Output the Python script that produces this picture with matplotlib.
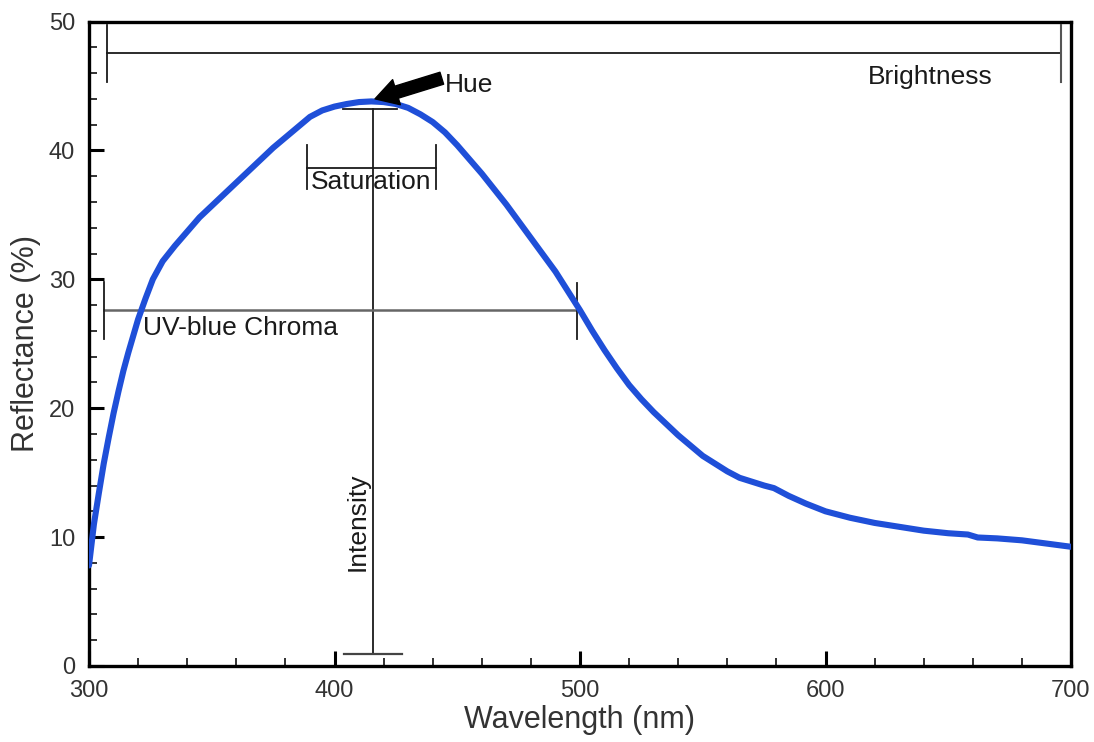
import matplotlib
matplotlib.use("Agg")
import matplotlib.pyplot as plt
from matplotlib.ticker import MultipleLocator

plt.rcParams['font.family'] = ['Liberation Sans', 'DejaVu Sans']

# Reflectance spectrum
wavelength = [300, 302, 304, 306, 308, 310, 312, 314, 316, 318,
              320, 323, 326, 330, 335, 340, 345, 350, 355, 360,
              365, 370, 375, 380, 385, 390, 395, 400, 405, 410,
              415, 420, 425, 430, 435, 440, 445, 450, 455, 460,
              465, 470, 475, 480, 485, 490, 495, 500, 505, 510,
              515, 520, 525, 530, 535, 540, 545, 550, 555, 560,
              565, 570, 575, 579, 585, 592, 600, 610, 620, 630,
              640, 650, 658, 662, 670, 680, 690, 700]
reflectance = [7.8, 11.0, 13.4, 15.7, 17.7, 19.6, 21.3, 22.9, 24.3, 25.6,
               26.9, 28.5, 30.0, 31.4, 32.6, 33.7, 34.8, 35.7, 36.6, 37.5,
               38.4, 39.3, 40.2, 41.0, 41.8, 42.6, 43.1, 43.4, 43.6, 43.75,
               43.8, 43.75, 43.6, 43.3, 42.8, 42.2, 41.4, 40.4, 39.3, 38.2,
               37.0, 35.8, 34.5, 33.2, 31.9, 30.6, 29.1, 27.6, 26.0, 24.5,
               23.1, 21.8, 20.7, 19.7, 18.8, 17.9, 17.1, 16.3, 15.7, 15.1,
               14.6, 14.3, 14.0, 13.8, 13.2, 12.6, 12.0, 11.5, 11.1, 10.8,
               10.5, 10.3, 10.2, 9.97, 9.9, 9.75, 9.5, 9.25]

x_ticks = [300, 400, 500, 600, 700]
y_ticks = [0, 10, 20, 30, 40, 50]

fig = plt.figure(figsize=(10.94, 7.42), dpi=100)
ax = fig.add_axes([89/1094, 76/742, (1071-89)/1094, (666-21.5)/742])

ax.plot(wavelength, reflectance, color='#1f4fd8', lw=4.4, solid_capstyle='round',
        solid_joinstyle='round', zorder=5)

ax.set_xlim(300, 700)
ax.set_ylim(0, 50)
ax.set_xticks(x_ticks)
ax.set_yticks(y_ticks)
ax.xaxis.set_minor_locator(MultipleLocator(20))
ax.yaxis.set_minor_locator(MultipleLocator(2))
ax.tick_params(which='major', direction='in', length=11, width=2.2, color='black',
               labelsize=17, labelcolor='#333333', pad=10)
ax.tick_params(which='minor', direction='in', length=6, width=1.3, color='#222222')
for s in ax.spines.values():
    s.set_linewidth(2.4)
    s.set_color('black')

ax.set_xlabel('Wavelength (nm)', fontsize=22, color='#333333', labelpad=2)
ax.set_ylabel('Reflectance (%)', fontsize=22, color='#333333', labelpad=6)

txt = dict(fontsize=19, color='#1a1a1a')
lk = dict(color='#1a1a1a', lw=1.3, zorder=3)

# Brightness
ax.plot([307.3, 695.9], [47.55, 47.55], **lk)
ax.plot([307.3, 307.3], [45.27, 49.7], **lk)
ax.plot([695.9, 695.9], [45.27, 49.7], color='#555555', lw=1.5, zorder=3)
ax.text(617.4, 45.17, 'Brightness', ha='left', va='baseline', **txt)

# Hue arrow
ax.annotate('', xy=(416.5, 44.0), xytext=(443.7, 45.6),
            arrowprops=dict(arrowstyle='simple,head_length=0.9,head_width=1.05,tail_width=0.5',
                            fc='black', ec='black', mutation_scale=18, shrinkA=0, shrinkB=0),
            zorder=6)
ax.text(445.0, 44.52, 'Hue', ha='left', va='baseline', **txt)

# Saturation
ax.plot([388.7, 441.3], [38.66, 38.66], **lk)
ax.plot([388.7, 388.7], [37.03, 40.39], **lk)
ax.plot([441.3, 441.3], [37.03, 40.39], **lk)
ax.text(415.1, 37.03, 'Saturation', ha='center', va='baseline', **txt)

# Intensity
ax.plot([415.5, 415.5], [0.93, 43.23], **lk)
ax.plot([403.6, 425.3], [43.23, 43.23], **lk)
ax.plot([404.0, 427.4], [0.93, 0.93], color='#444444', lw=1.6, zorder=3)
ax.text(412.4, 11.2, 'Intensity', rotation=90, rotation_mode='anchor',
        ha='center', va='baseline', **txt)

# UV-blue Chroma
ax.plot([306.1, 498.9], [27.65, 27.65], color='#666666', lw=1.8, zorder=3)
ax.plot([306.1, 306.1], [25.4, 29.8], **lk)
ax.plot([498.9, 498.9], [25.4, 29.7], **lk)
ax.text(322.1, 25.66, 'UV-blue Chroma', ha='left', va='baseline', **txt)

fig.savefig('out.png', dpi=100)
